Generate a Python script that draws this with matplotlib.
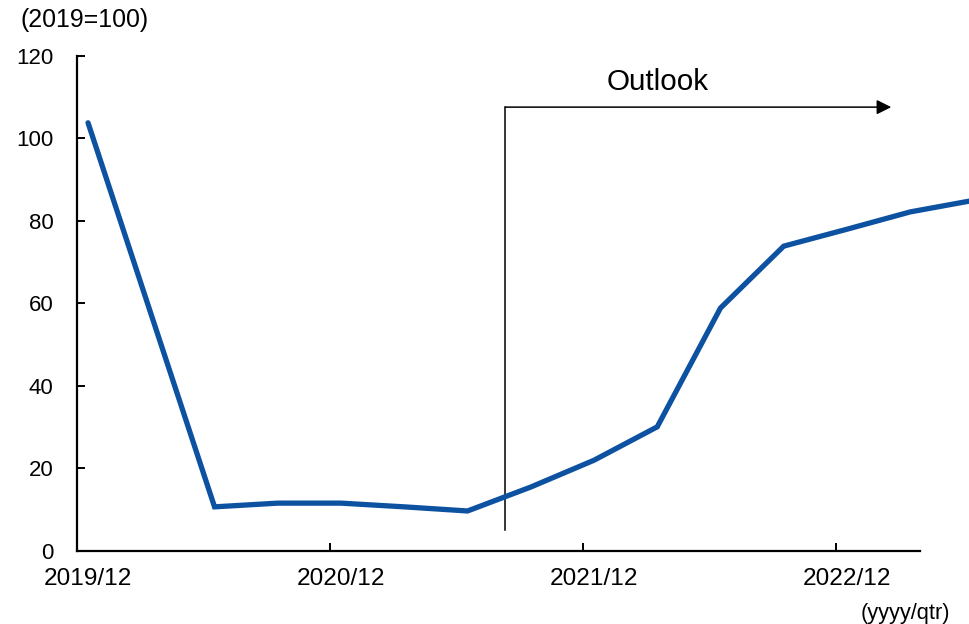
import matplotlib
matplotlib.use("Agg")
import matplotlib.pyplot as plt

plt.rcParams['font.family'] = ['Liberation Sans', 'DejaVu Sans']

# Quarter index counted from 2019/12 (0 = 2019/12, 1 = 2020/03, ...)
quarters = [0, 2, 3, 4, 5, 6, 7, 8, 9, 10, 11, 12, 13, 14]
values = [103.8, 10.7, 11.6, 11.6, 10.7, 9.7, 15.5, 22.0, 30.1, 58.9, 73.9, 78.0, 82.2, 85.0]

year_labels = ['2019/12', '2020/12', '2021/12', '2022/12']
label_quarters = [0, 4, 8, 12]
y_ticks = [0, 20, 40, 60, 80, 100, 120]

outlook_start = 6.6     # quarter position where the outlook period begins
outlook_end = 12.7
outlook_level = 107.6
outlook_bottom = 5.0

line_color = '#0D51A1'

fig = plt.figure(figsize=(9.69, 6.24), dpi=100)
ax = fig.add_axes([0.0795, 0.117, 0.8699, 0.7933])

tick_offset = -0.174
ax.set_xlim(tick_offset, 13.154)
ax.set_ylim(0, 120)

ax.plot(quarters, values, color=line_color, lw=3.8, solid_joinstyle='miter',
        solid_capstyle='round', clip_on=False, zorder=3)

# Outlook marker: vertical divider plus arrow
ax.plot([outlook_start, outlook_start], [outlook_bottom, outlook_level],
        color='black', lw=1.1, zorder=2)
ax.annotate('', xy=(outlook_end, outlook_level), xytext=(outlook_start, outlook_level),
            arrowprops=dict(arrowstyle='-|>', color='black', lw=1.1,
                            mutation_scale=22, shrinkA=0, shrinkB=0))
ax.text(9.01, outlook_level + 2.8, 'Outlook',
        ha='center', va='bottom', fontsize=21.3)

for side in ('top', 'right'):
    ax.spines[side].set_visible(False)
for side in ('left', 'bottom'):
    ax.spines[side].set_linewidth(1.6)
    ax.spines[side].set_color('black')

ax.set_yticks(y_ticks)
ax.tick_params(axis='y', direction='in', length=6, width=1.4, labelsize=16, pad=17)

# Tick marks on year boundaries, labels centred on the December quarters
ax.set_xticks([q + tick_offset for q in label_quarters])
ax.set_xticklabels([])
ax.set_xticks(label_quarters, minor=True)
ax.set_xticklabels(year_labels, minor=True)
ax.tick_params(axis='x', which='major', direction='in', length=6, width=1.4)
ax.tick_params(axis='x', which='minor', length=0, labelsize=17.6, pad=12)

fig.text(20 / 969, 1 - 20 / 624, '(2019=100)', ha='left', va='center', fontsize=17.9)
fig.text(950 / 969, 1 - 613 / 624, '(yyyy/qtr)', ha='right', va='center', fontsize=15.7)

fig.savefig('out.png', dpi=100)
